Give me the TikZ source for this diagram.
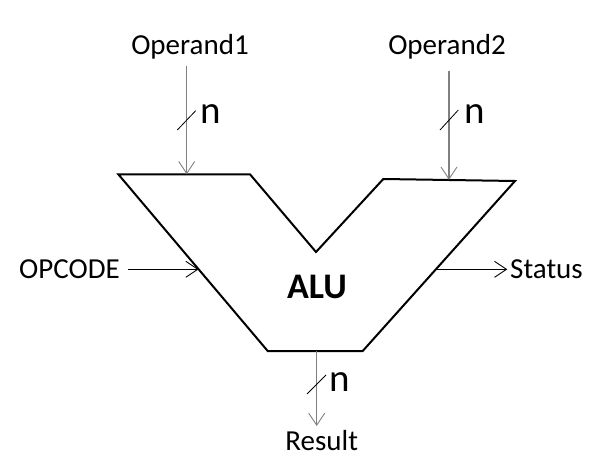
\documentclass[tikz,border=0pt]{standalone}
\usepackage{fontspec}
\setmainfont{Carlito}
\usetikzlibrary{arrows.meta}
\definecolor{wiregray}{RGB}{128,128,128}
\tikzset{
  lbl/.style={inner sep=0pt, font=\fontsize{29}{32}\selectfont},
  buslbl/.style={inner sep=0pt, font=\fontsize{39}{42}\selectfont},
  alulbl/.style={inner sep=0pt, font=\fontsize{36}{40}\selectfont\bfseries},
  barb/.style={-{Straight Barb[length=12pt,width=16pt,line width=0.9pt]}},
  graywire/.style={barb, draw=wiregray, line width=1.1pt},
  blackwire/.style={barb, draw=black, line width=1pt},
  busslash/.style={draw=black, line width=0.8pt},
  alushape/.style={draw=black, line width=2pt, line join=miter, fill=white}
}
\begin{document}
\begin{tikzpicture}[x=1pt,y=-1pt]
\useasboundingbox (0,0) rectangle (612,465);
% ALU outline
\draw[alushape] (118.3,174.3) -- (250,174.3) -- (316,252) -- (383.3,179) -- (515,181)
  -- (362.7,351) -- (267.7,351) -- cycle;
\node[alulbl, anchor=base] (alu) at (317,298.3) {ALU};
% connection points on outline
\coordinate (in1) at (186.7,174.3);
\coordinate (in2) at (449,179.8);
\coordinate (opin) at (198.6,269.3);
\coordinate (stout) at (436,269.3);
\coordinate (resout) at (316.7,351);
\coordinate (restip) at (316.7,426);
% text
\node[lbl, anchor=base] (op1) at (190,54.3) {Operand1};
\node[lbl, anchor=base] (op2) at (447,54.8) {Operand2};
\node[lbl, anchor=base east] (opc) at (120,278.3) {OPCODE};
\node[lbl, anchor=base west] (st) at (510,278.3) {Status};
\node[lbl, anchor=base] (res) at (321.7,450) {Result};
\node[buslbl, anchor=base west] (n1) at (200,124) {n};
\node[buslbl, anchor=base west] (n2) at (464.5,124) {n};
\node[buslbl, anchor=base west] (n3) at (329.5,391) {n};
% wires
\draw[graywire] (186.7,65.7) -- (in1);
\draw[graywire] (449,70.7) -- (in2);
\draw[graywire] (resout) -- (restip);
\draw[blackwire] (127.7,269.3) -- (opin);
\draw[blackwire] (stout) -- (507.3,269.3);
% bus slashes
\draw[busslash] (177.3,130) -- (195.7,110.7);
\draw[busslash] (440,130) -- (458.3,110);
\draw[busslash] (307,394) -- (326,375);
\end{tikzpicture}
\end{document}
